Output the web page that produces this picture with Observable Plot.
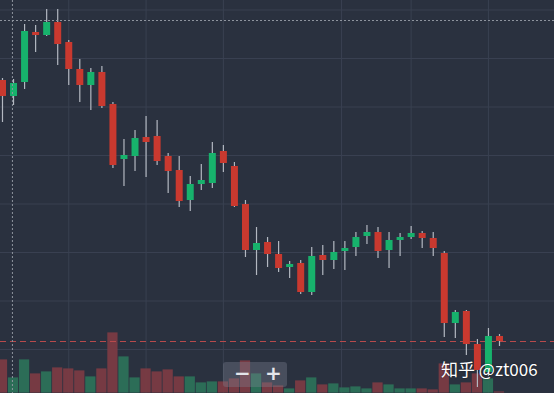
<!DOCTYPE html>
<html>
<head>
<meta charset="utf-8">
<script src="https://cdn.jsdelivr.net/npm/d3@7"></script>
<script src="https://cdn.jsdelivr.net/npm/@observablehq/plot@0.6"></script>
<style>
  html, body { margin: 0; padding: 0; background: #2a313f; overflow: hidden; }
  #chart { position: relative; width: 554px; height: 393px; background: #2a313f; }
  #chart svg { position: absolute; left: 0; top: 0; }
  .zoomctl { position: absolute; left: 223px; top: 362px; width: 64px; height: 25px;
    background: rgba(130,136,148,0.35); border-radius: 3px; }
  .zoomctl span { position: absolute; top: -1px; color: #e4e6ea; font: bold 20px "DejaVu Sans", sans-serif; }
  .wm { position: absolute; left: 441px; top: 356px; color: #ffffff; font: 17px "Noto Sans CJK SC", "Noto Sans", sans-serif;
    text-shadow: 0 0 2px rgba(0,0,0,0.5); white-space: nowrap; }
</style>
</head>
<body>
<div id="chart"></div>
<script>
// ---- data (price units) ----
const open   = [32.0,30.4,31.8,36.8,36.5,37.8,35.8,33.1,31.5,32.8,29.6,24.1,24.4,26.3,26.4,24.4,23.0,20.0,21.6,21.7,24.9,23.4,19.6,15.0,15.8,14.6,13.3,13.7,10.8,14.5,14.0,14.9,15.3,16.4,16.8,15.0,16.0,16.3,16.7,16.2,14.7,7.7,8.9,5.6,2.8,6.4];
const close  = [30.4,31.7,36.9,36.5,37.8,35.6,33.1,31.5,32.8,29.4,23.5,24.5,26.2,25.8,23.9,22.9,19.9,21.6,22.0,24.7,23.7,19.4,15.0,15.7,14.6,13.2,13.6,10.8,14.4,14.0,14.8,15.2,16.3,16.8,14.9,16.0,16.3,16.7,16.2,15.2,7.7,8.8,5.6,3.0,6.4,5.9];
const high   = [32.2,32.1,37.6,37.5,39.1,39.1,36.0,34.1,33.2,33.4,29.8,26.1,27.0,28.4,28.0,24.7,24.4,22.4,23.6,25.8,25.5,23.8,20.0,17.3,16.3,15.9,13.9,14.0,15.3,15.5,15.9,15.9,16.8,17.5,17.3,16.8,16.7,17.4,16.9,16.8,14.9,9.0,9.0,6.1,7.2,6.6];
const low    = [27.8,29.5,31.1,34.8,36.4,33.5,31.5,29.8,29.0,29.2,23.2,21.4,22.9,22.3,23.5,20.7,19.3,18.9,21.0,21.2,22.8,19.3,14.3,12.5,13.3,12.8,12.2,10.6,10.5,12.5,13.1,13.0,14.4,15.6,14.2,13.2,14.4,16.1,15.2,14.4,6.3,6.2,4.5,1.3,2.4,5.4];
const volume = [3400,1600,3400,2000,2200,2600,2500,2300,1700,2500,6100,3700,1600,2500,2200,2400,1700,1700,1100,1200,1200,1500,3300,2000,1100,800,500,1300,1600,900,1000,600,700,500,1100,900,500,500,500,400,3000,900,1100,2000,1500,200];
const gridIdx    = [6, 13, 20, 30.7, 37, 44];
const gridPrices = [5.1, 9.95, 14.8, 19.65, 24.5, 29.35, 34.2, 39.05];
const crossIdx = 0.9, crossPrice = 38.0;

const UP = "#17b26c", DOWN = "#c9392f";
const data = open.map((o, i) => ({i, o, c: close[i], h: high[i], l: low[i], v: volume[i], up: close[i] >= o}));
const last = data[data.length - 1].c;

const W = 554, H = 393;
const xDomain = [-0.18, 49.98];
const common = {width: W, height: H, marginTop: 0, marginRight: 0, marginBottom: 0, marginLeft: 0,
  style: {background: "transparent", overflow: "visible"}};
const priceY = {domain: [0.7, 40.0], axis: null};
const xs = {domain: xDomain, axis: null};

const grid = Plot.plot({...common, x: xs, y: priceY, marks: [
  Plot.ruleX(gridIdx, {x: d => d, stroke: "#394051", strokeWidth: 1}),
  Plot.ruleY(gridPrices, {y: d => d, stroke: "#394051", strokeWidth: 1})
]});

const vol = Plot.plot({...common, x: xs, y: {domain: [0, 39300], axis: null}, marks: [
  Plot.rectY(data, {x1: d => d.i - 0.5, x2: d => d.i + 0.5, y: "v", inset: 0.4,
    fill: d => d.up ? "#2c7159" : "#7a3b43", fillOpacity: 0.95})
]});

const candles = Plot.plot({...common, x: xs, y: priceY, marks: [
  Plot.ruleY([last], {y: d => d, stroke: "#b84a4c", strokeWidth: 1.2, strokeDasharray: "6,4"}),
  Plot.ruleX(data, {x: "i", y1: "l", y2: "h", stroke: "#b3b8c1", strokeWidth: 1.2}),
  Plot.ruleX(data, {x: "i", y1: "o", y2: "c", stroke: d => d.up ? UP : DOWN, strokeWidth: 7, strokeLinecap: "butt"}),
  Plot.ruleY([crossPrice], {y: d => d, stroke: "#8e949e", strokeWidth: 1, strokeDasharray: "2,2"}),
  Plot.ruleX([crossIdx], {x: d => d, stroke: "#8e949e", strokeWidth: 1, strokeDasharray: "2,2"})
]});

const el = document.getElementById("chart");
el.append(grid, vol, candles);

const ctl = document.createElement("div");
ctl.className = "zoomctl";
ctl.innerHTML = '<span style="left:11px">−</span><span style="left:42px">+</span>';
el.append(ctl);
const wm = document.createElement("div");
wm.className = "wm";
wm.textContent = "知乎 @zt006";
el.append(wm);
</script>
</body>
</html>
